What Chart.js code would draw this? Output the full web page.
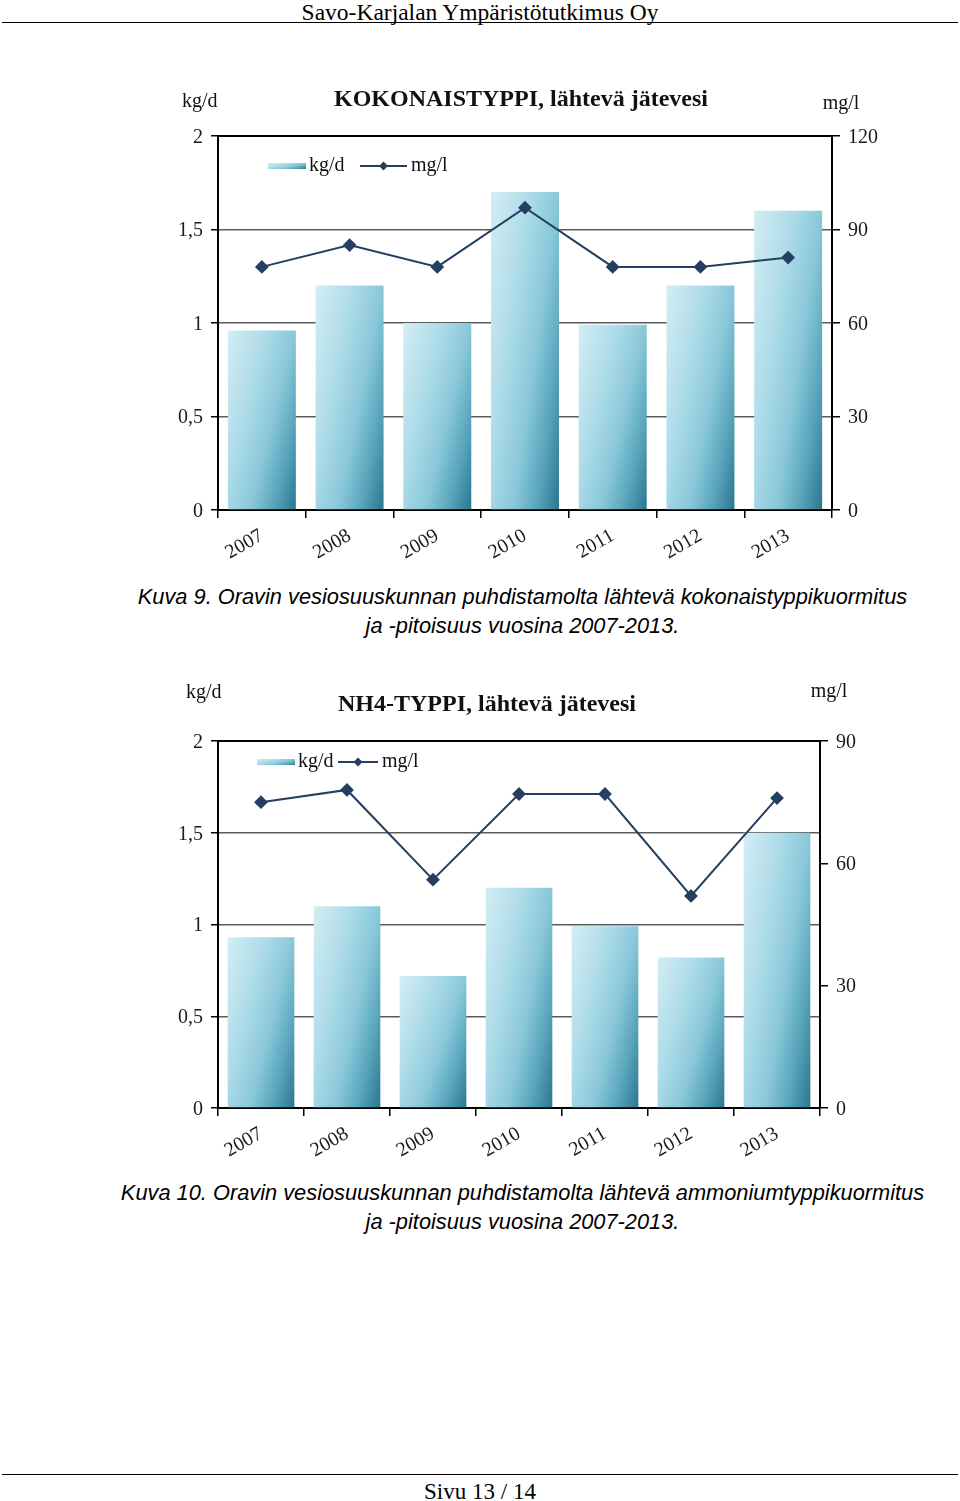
<!DOCTYPE html>
<html lang="fi">
<head>
<meta charset="utf-8">
<title>Kokonaistyppi ja NH4-typpi, lähtevä jätevesi</title>
<script src="https://cdn.jsdelivr.net/npm/chart.js@4.4.1/dist/chart.umd.min.js"></script>
<style>
  html, body { margin: 0; padding: 0; background: #fff; }
  body { width: 960px; height: 1501px; position: relative; overflow: hidden;
         font-family: "Liberation Serif", "Times New Roman", serif; color: #000; }
  .head { position: absolute; left: 0; top: 0; width: 960px; text-align: center;
          font-size: 23.5px; line-height: 24px; }
  .rule { position: absolute; left: 2px; width: 956px; height: 0; border-top: 1px solid #000; }
  .chart { position: absolute; left: 160px; width: 740px; height: 490px; }
  .caption { position: absolute; left: 85px; width: 875px; text-align: center;
             font-family: "Liberation Sans", Arial, sans-serif; font-style: italic;
             font-size: 21.8px; line-height: 29px; }
  .foot { position: absolute; left: 0; top: 1480px; width: 960px; text-align: center;
          font-size: 23px; line-height: 24px; }
</style>
</head>
<body>
<div class="head">Savo-Karjalan Ympäristötutkimus Oy</div>
<div class="rule" style="top:22px"></div>

<div class="chart" style="top:80px"><canvas id="kokn"></canvas></div>
<div class="caption" style="top:582px">Kuva 9. Oravin vesiosuuskunnan puhdistamolta lähtevä kokonaistyppikuormitus<br>ja -pitoisuus vuosina 2007-2013.</div>

<div class="chart" style="top:670px"><canvas id="nh4"></canvas></div>
<div class="caption" style="top:1178px">Kuva 10. Oravin vesiosuuskunnan puhdistamolta lähtevä ammoniumtyppikuormitus<br>ja -pitoisuus vuosina 2007-2013.</div>

<div class="rule" style="top:1474px"></div>
<div class="foot">Sivu 13 / 14</div>

<script>
// Values (kg/d on the left axis, mg/l on the right).
const YEARS = ['2007', '2008', '2009', '2010', '2011', '2012', '2013'];

const KOKN_KGD = [0.96, 1.2, 1.0, 1.7, 0.99, 1.2, 1.6];
const KOKN_MGL = [78, 85, 78, 97, 78, 78, 81];

const NH4_KGD = [0.93, 1.1, 0.72, 1.2, 0.99, 0.82, 1.5];
const NH4_MGL = [75, 78, 56, 77, 77, 52, 76];

const KGD_MAX = 2;
const KGD_STEP = 0.5;
const KOKN_MGL_MAX = 120;
const NH4_MGL_MAX = 90;
const MGL_STEP = 30;

const LINE_COLOR = '#243f60';
const BAR_FRACTION = 0.775;
const SERIF = '"Liberation Serif", "Times New Roman", serif';

// Office-style shaded bar: light at the top left, dark teal at the bottom right.
// The gradient runs along the box diagonal, so it is set up in bar-relative units.
function shadedFill(c, left, top, w, h) {
    const a = 0.6, b = 0.4;
    const gx = a / w, gy = b / Math.max(h, 1);
    const n = gx * gx + gy * gy;
    const g = c.createLinearGradient(left, top, left + gx / n, top + gy / n);
    g.addColorStop(0, '#d4edf4');
    g.addColorStop(0.35, '#acdbe8');
    g.addColorStop(0.6, '#88c7d9');
    g.addColorStop(0.8, '#58a4bb');
    g.addColorStop(1, '#2a7690');
    return g;
}

function barFill(ctx) {
    const chart = ctx.chart;
    if (ctx.type !== 'data' || !chart.chartArea) return '#9fd2e1';
    const xs = chart.scales.x, ys = chart.scales.y;
    const w = xs.width / YEARS.length * BAR_FRACTION;
    const cx = xs.getPixelForValue(ctx.dataIndex);
    const top = ys.getPixelForValue(ctx.raw);
    const bottom = ys.getPixelForValue(0);
    return shadedFill(chart.ctx, cx - w / 2, top, w, bottom - top);
}

// Frame, title, unit labels and the in-plot legend.
const decorPlugin = {
    id: 'decor',
    afterDatasetsDraw(chart, args, o) {
        const c = chart.ctx, a = chart.chartArea;
        c.save();
        c.strokeStyle = '#000';
        c.lineWidth = 2;
        c.beginPath();
        c.moveTo(a.left, a.top);
        c.lineTo(a.right, a.top);
        c.lineTo(a.right, a.bottom);
        c.stroke();
        c.restore();
    },
    afterDraw(chart, args, o) {
        const c = chart.ctx;
        c.save();
        c.fillStyle = '#111';
        c.textBaseline = 'middle';

        c.font = 'bold 24px ' + SERIF;
        c.textAlign = 'center';
        c.fillText(o.title, o.titleX, o.titleY);

        c.font = '20px ' + SERIF;
        c.textAlign = 'left';
        c.fillText('kg/d', o.kgdX, o.kgdY);
        c.textAlign = 'center';
        c.fillText('mg/l', o.mglX, o.mglY);

        // legend
        const L = o.legend;
        c.fillStyle = shadedFill(c, L.boxX, L.y - 3, 38, 6);
        c.fillRect(L.boxX, L.y - 3, 38, 6);
        c.fillStyle = '#111';
        c.textAlign = 'left';
        c.fillText('kg/d', L.boxX + 41, L.y);
        c.strokeStyle = LINE_COLOR;
        c.lineWidth = 2;
        c.beginPath();
        c.moveTo(L.lineX, L.y);
        c.lineTo(L.lineX + L.lineLen, L.y);
        c.stroke();
        const mx = L.lineX + L.lineLen / 2;
        c.fillStyle = LINE_COLOR;
        c.beginPath();
        c.moveTo(mx, L.y - 4.5);
        c.lineTo(mx + 4.5, L.y);
        c.lineTo(mx, L.y + 4.5);
        c.lineTo(mx - 4.5, L.y);
        c.closePath();
        c.fill();
        c.fillStyle = '#111';
        c.fillText('mg/l', L.lineX + L.lineLen + 4, L.y);
        c.restore();
    },
};

function makeChart(id, kgd, mgl, mglMax, look) {
    const tickFont = { family: SERIF, size: 20 };
    return new Chart(document.getElementById(id), {
        data: {
            labels: YEARS,
            datasets: [
                {
                    type: 'line',
                    label: 'mg/l',
                    data: mgl,
                    yAxisID: 'y1',
                    order: 0,
                    borderColor: LINE_COLOR,
                    backgroundColor: LINE_COLOR,
                    borderWidth: 2,
                    tension: 0,
                    pointStyle: 'rectRot',
                    pointRadius: 5.5,
                    pointBackgroundColor: LINE_COLOR,
                    pointBorderColor: LINE_COLOR,
                },
                {
                    type: 'bar',
                    label: 'kg/d',
                    data: kgd,
                    yAxisID: 'y',
                    order: 1,
                    backgroundColor: barFill,
                    borderWidth: 0,
                    barPercentage: 1,
                    categoryPercentage: BAR_FRACTION,
                },
            ],
        },
        options: {
            responsive: true,
            maintainAspectRatio: false,
            animation: false,
            layout: { padding: { top: look.top, left: 0, right: 0, bottom: 0 } },
            scales: {
                x: {
                    offset: true,
                    afterFit: (s) => { s.height = look.xHeight; },
                    grid: { drawOnChartArea: false, color: '#000', tickLength: 8, lineWidth: 1.5 },
                    border: { color: '#000', width: 2 },
                    ticks: { color: '#1a1a1a', font: tickFont, minRotation: 30, maxRotation: 30,
                             autoSkip: false, padding: 6 },
                },
                y: {
                    position: 'left',
                    min: 0,
                    max: KGD_MAX,
                    afterFit: (s) => { s.width = 58; },
                    grid: { color: '#5a5a5a', lineWidth: 1.5, tickLength: 7, tickColor: '#000' },
                    border: { color: '#000', width: 2 },
                    ticks: {
                        stepSize: KGD_STEP,
                        color: '#1a1a1a',
                        font: tickFont,
                        padding: 8,
                        labelOffset: 1.5,
                        callback: (v) => String(v).replace('.', ','),
                    },
                },
                y1: {
                    position: 'right',
                    min: 0,
                    max: mglMax,
                    afterFit: (s) => { s.width = look.rightWidth; },
                    grid: { drawOnChartArea: false, color: '#000', tickLength: 8, lineWidth: 1.5 },
                    border: { color: '#000', width: 2 },
                    ticks: { stepSize: MGL_STEP, color: '#1a1a1a', font: tickFont, padding: 8, labelOffset: 1.5 },
                },
            },
            plugins: {
                legend: { display: false },
                tooltip: { enabled: false },
                decor: look.decor,
            },
        },
        plugins: [decorPlugin],
    });
}

makeChart('kokn', KOKN_KGD, KOKN_MGL, KOKN_MGL_MAX, {
    top: 56, xHeight: 60, rightWidth: 68,
    decor: {
        title: 'KOKONAISTYPPI, lähtevä jätevesi', titleX: 361, titleY: 20,
        kgdX: 22, kgdY: 22, mglX: 681, mglY: 24,
        legend: { boxX: 108, lineX: 200, lineLen: 47, y: 86 },
    },
});

makeChart('nh4', NH4_KGD, NH4_MGL, NH4_MGL_MAX, {
    top: 71, xHeight: 52, rightWidth: 80,
    decor: {
        title: 'NH4-TYPPI, lähtevä jätevesi', titleX: 327, titleY: 35,
        kgdX: 26, kgdY: 23, mglX: 669, mglY: 22,
        legend: { boxX: 97, lineX: 178, lineLen: 40, y: 92 },
    },
});
</script>
</body>
</html>
